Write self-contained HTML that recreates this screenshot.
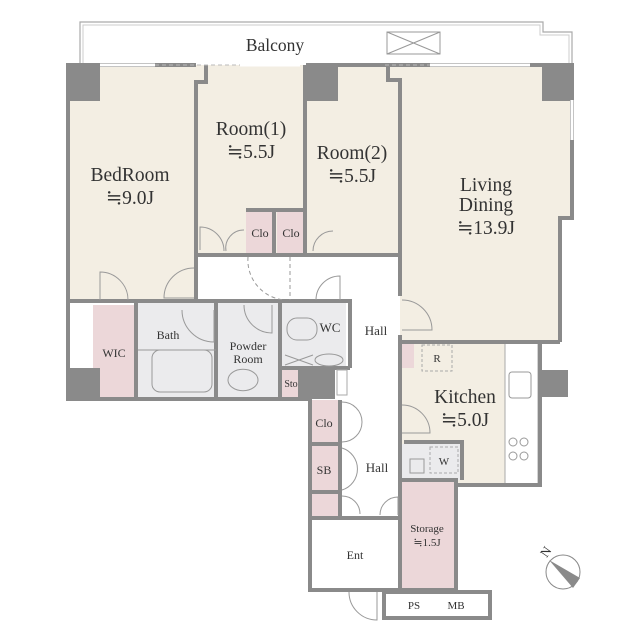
<!DOCTYPE html>
<html><head><meta charset="utf-8"><style>
html,body{margin:0;padding:0;background:#fff;}
svg{display:block;}
text{font-family:"Liberation Serif","DejaVu Serif",serif;fill:#333;text-anchor:middle;}
</style></head><body>
<svg width="640" height="640" viewBox="0 0 640 640" xmlns="http://www.w3.org/2000/svg">
<!-- balcony -->
<path d="M80 65 V22 H543 V32 H572 V65" fill="none" stroke="#aaa" stroke-width="1.2"/>
<path d="M83 65 V25 H540 V35 H569 V65" fill="none" stroke="#ccc" stroke-width="1"/>
<rect x="387" y="32" width="53" height="22" fill="none" stroke="#999" stroke-width="1"/>
<path d="M387 32 L440 54 M440 32 L387 54" stroke="#999" stroke-width="1"/>
<text x="275" y="51" font-size="17.5">Balcony</text>

<!-- fills -->
<g fill="#f3eee3">
<rect x="68" y="65" width="128" height="236"/>
<rect x="196" y="65" width="110" height="190"/>
<rect x="306" y="65" width="94" height="190"/>
<path d="M400 65 H572 V218 H560 V342 H400 Z"/>
<rect x="400" y="342" width="105" height="143"/>
</g>
<g fill="#ebebed">
<rect x="138" y="303" width="78" height="94"/>
<rect x="218" y="303" width="62" height="94"/>
<rect x="282" y="303" width="64" height="65"/>
<rect x="402" y="444" width="58" height="36"/>
</g>
<g fill="#ecd7d9">
<rect x="246" y="210" width="28" height="44"/>
<rect x="277" y="210" width="28" height="44"/>
<rect x="93" y="305" width="42" height="92"/>
<rect x="282" y="370" width="18" height="27"/>
<rect x="312" y="400" width="26" height="42"/>
<rect x="312" y="446" width="26" height="44"/>
<rect x="312" y="494" width="26" height="22"/>
<rect x="402" y="482" width="52" height="106"/>
<rect x="402" y="342" width="12" height="26"/>
</g>
<rect x="505" y="343" width="33" height="142" fill="#fff" stroke="#aaa" stroke-width="1"/>

<!-- walls -->
<g fill="none" stroke="#8a8a8a" stroke-width="4">
<path d="M68 65 H196 M306 65 H400 M400 65 H572 V218 H560 V342"/>
<path d="M68 63 V399 H310"/>
<path d="M206 65 V82 H196 V300 M196 255 H246 M305 255 V65"/>
<path d="M274 210 V255 M246 210 H305 M246 255 H400"/>
<path d="M388 65 V80 H400 V296 M400 335 V480"/>
<path d="M68 301 H350 V368"/>
<path d="M136 301 V397 M216 301 V397 M280 301 V397 M300 368 V397"/>
<path d="M280 368 H350"/>
<path d="M310 397 V590 H400 M340 400 V516 M310 444 H340 M310 492 H340 M310 518 H400"/>
<path d="M400 342 H560 M540 342 V485 H458 M400 480 H456 V590 H400 V480"/>
<path d="M404 442 H462 V480"/>
<path d="M384 592 H490 V618 H384 Z"/>
</g>
<!-- pillars -->
<g fill="#8a8a8a">
<rect x="68" y="65" width="32" height="36"/>
<rect x="306" y="65" width="32" height="36"/>
<rect x="542" y="65" width="30" height="36"/>
<rect x="68" y="368" width="32" height="31"/>
<rect x="300" y="368" width="35" height="31"/>
<rect x="538" y="370" width="30" height="27"/>
</g>
<rect x="72" y="305" width="20" height="62" fill="#fff"/>
<rect x="337" y="370" width="10" height="25" fill="#fff" stroke="#aaa" stroke-width="1"/>
<!-- windows -->
<g stroke="#fff" stroke-width="3">
<path d="M100 65 H155 M240 65 H300 M430 65 H530 M572 100 V140"/>
</g>
<path d="M155 65 H240 M385 65 H430" stroke="#bbb" stroke-width="1" stroke-dasharray="4 3"/>
<!-- doors -->
<g fill="none" stroke="#999" stroke-width="1">
<path d="M100 300 V272 A28 28 0 0 1 128 300"/>
<path d="M194 268 A30 30 0 0 0 164 298 H194"/>
<path d="M200 250 V227 A24 24 0 0 1 224 251"/>
<path d="M226 251 A18 18 0 0 1 244 230"/>
<path d="M313 251 A20 20 0 0 1 333 231"/>
<path d="M248 257 A40 40 0 0 0 285 300 M290 257 V300" stroke-dasharray="4 3"/>
<path d="M316 300 A24 24 0 0 1 340 276 V300"/>
<path d="M402 300 A30 30 0 0 1 432 330 H402"/>
<path d="M182 310 A32 32 0 0 0 214 342 V310"/>
<path d="M244 305 A28 28 0 0 0 272 333 V305"/>
<path d="M342 402 A20 20 0 0 1 342 442 M342 448 A22 22 0 0 1 342 490 M342 496 A18 18 0 0 1 360 514"/>
<path d="M380 515 A18 18 0 0 1 398 497 V515"/>
<path d="M349 592 A28 28 0 0 0 377 620 V592"/>
<path d="M402 405 A28 28 0 0 1 430 433 H402"/>
<rect x="152" y="350" width="60" height="42" rx="8"/>
<path d="M138 350 H216"/>
<rect x="287" y="318" width="30" height="22" rx="10"/>
<path d="M228 380 A14 10 0 0 1 258 380 A14 10 0 0 1 228 380"/>
<rect x="410" y="459" width="14" height="14"/>
<rect x="509" y="372" width="22" height="26" rx="3"/>
<circle cx="513" cy="442" r="4"/><circle cx="524" cy="442" r="4"/><circle cx="513" cy="456" r="4"/><circle cx="524" cy="456" r="4"/>
<path d="M285 355 L313 365 M285 365 L313 355"/>
<path d="M315 360 A14 6 0 0 1 343 360 A14 6 0 0 1 315 360"/>
</g>
<g fill="none" stroke="#aaa" stroke-dasharray="3 2">
<rect x="422" y="345" width="30" height="26"/>
<rect x="430" y="447" width="28" height="26"/>
</g>
<!-- compass -->
<circle cx="563" cy="572" r="17" fill="#fff" stroke="#888" stroke-width="1"/>
<path d="M549 560 L580 578 L573 588 Z" fill="#8a8a8a"/>
<text x="546" y="556" font-size="13" transform="rotate(-55 546 552)">N</text>

<!-- labels -->
<text x="130" y="181" font-size="19.5">BedRoom</text>
<text x="130" y="204" font-size="19.5">≒9.0J</text>
<text x="251" y="135" font-size="19.5">Room(1)</text>
<text x="251" y="158" font-size="19.5">≒5.5J</text>
<text x="352" y="159" font-size="19.5">Room(2)</text>
<text x="352" y="182" font-size="19.5">≒5.5J</text>
<text x="486" y="191" font-size="19.5">Living</text>
<text x="486" y="211" font-size="19.5">Dining</text>
<text x="486" y="234" font-size="19.5">≒13.9J</text>
<text x="465" y="403" font-size="19.5">Kitchen</text>
<text x="465" y="426" font-size="19.5">≒5.0J</text>
<text x="260" y="237" font-size="12">Clo</text>
<text x="291" y="237" font-size="12">Clo</text>
<text x="114" y="357" font-size="12">WIC</text>
<text x="168" y="339" font-size="12">Bath</text>
<text x="248" y="350" font-size="12">Powder</text>
<text x="248" y="363" font-size="12">Room</text>
<text x="330" y="332" font-size="13">WC</text>
<text x="291" y="387" font-size="10">Sto</text>
<text x="376" y="335" font-size="13">Hall</text>
<text x="377" y="472" font-size="13">Hall</text>
<text x="324" y="427" font-size="12">Clo</text>
<text x="324" y="474" font-size="12">SB</text>
<text x="355" y="559" font-size="12">Ent</text>
<text x="427" y="532" font-size="11">Storage</text>
<text x="427" y="546" font-size="11">≒1.5J</text>
<text x="437" y="362" font-size="11">R</text>
<text x="444" y="465" font-size="11">W</text>
<text x="414" y="609" font-size="11">PS</text>
<text x="456" y="609" font-size="11">MB</text>
</svg>
</body></html>
